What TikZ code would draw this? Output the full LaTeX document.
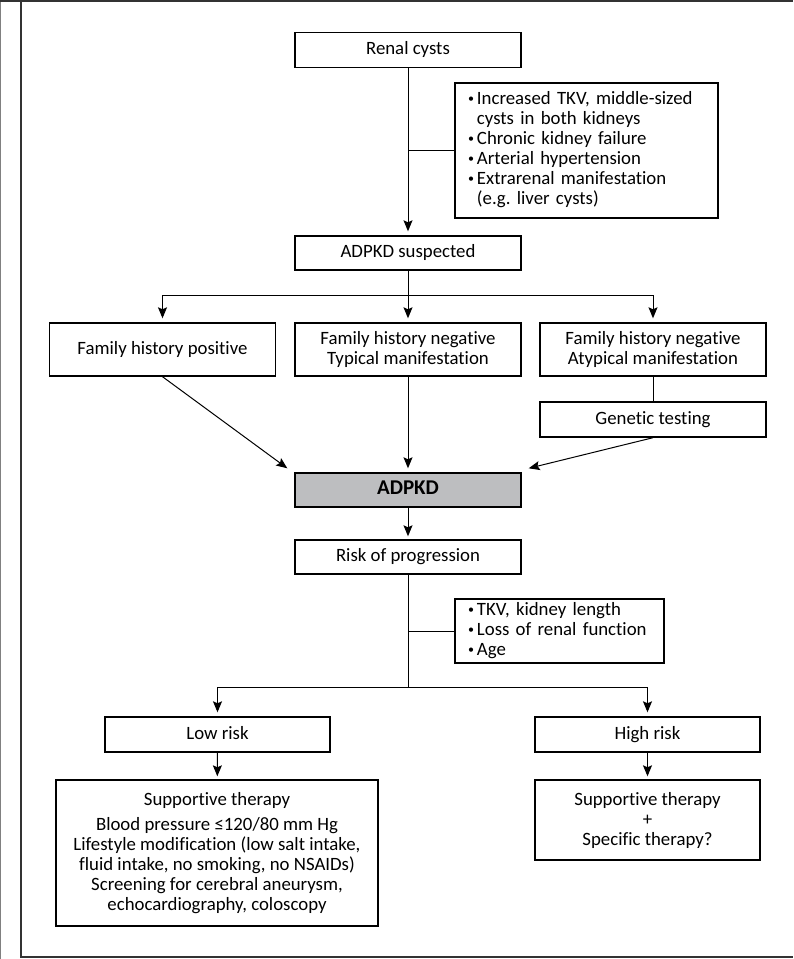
\documentclass[tikz,border=0pt]{standalone}
\usepackage{fontspec}
\setmainfont[Ligatures=NoCommon]{Carlito}
\usetikzlibrary{arrows.meta}
\definecolor{boxgray}{RGB}{189,190,192}
\newcommand{\bul}{\raisebox{0.2ex}{\fontsize{12}{12}\selectfont\textbullet}}
\tikzset{
  box/.style={draw, line width=1.4pt, minimum width=226pt, minimum height=35pt, align=center, inner sep=2pt},
  oneline/.style={text height=13pt, text depth=4pt},
  link/.style={line width=1pt},
}
\begin{document}
\begin{tikzpicture}[x=1pt, y=-1pt, >={Stealth[length=11pt,width=9pt,inset=2pt]}, font=\fontsize{18.8}{20}\selectfont\frenchspacing]
    \useasboundingbox (0,0) rectangle (793,959);
    \draw[gray, line width=1pt] (0.5,0) -- (0.5,959);
    \draw[black!80, line width=1.5pt] (0,1) -- (793,1) (21,1) -- (21,957) -- (793,957);

    \node[box, oneline] (renal) at (408,50) {Renal cysts};
    \node[box, minimum width=263pt, minimum height=135pt, text width=237pt, inner xsep=13pt, align=left] (signs) at (586.5,150.5)
        {\begin{tabular}{@{}l@{\hspace{3pt}}l@{}}
         \bul & Increased TKV, middle-sized\\
              & cysts in both kidneys\\
         \bul & Chronic kidney failure\\
         \bul & Arterial hypertension\\
         \bul & Extrarenal manifestation\\
              & (e.g. liver cysts)
         \end{tabular}};
    \node[box, oneline, minimum height=34pt] (susp) at (408,253) {ADPKD suspected};
    \node[box, oneline, minimum height=53pt] (fhpos) at (162.5,349.5) {Family history positive};
    \node[box, minimum height=53pt] (fhtyp) at (408,349.5) {Family history negative\\Typical manifestation};
    \node[box, minimum height=53pt] (fhatyp) at (653,349.5) {Family history negative\\Atypical manifestation};
    \node[box, oneline] (gen) at (653,419.5) {Genetic testing};
    \node[box, oneline, minimum height=34pt, fill=boxgray, font=\fontsize{21}{22}\selectfont\bfseries] (adpkd) at (408,490) {ADPKD};
    \node[box, oneline, minimum height=34pt] (risk) at (408,557) {Risk of progression};
    \node[box, minimum width=209pt, minimum height=64pt, text width=183pt, inner xsep=13pt, align=left] (factors) at (559.5,631)
        {\begin{tabular}{@{}l@{\hspace{3pt}}l@{}}
         \bul & TKV, kidney length\\
         \bul & Loss of renal function\\
         \bul & Age
         \end{tabular}};
    \node[box, oneline, minimum width=225pt] (low) at (217.5,734.5) {Low risk};
    \node[box, oneline, minimum width=225pt] (high) at (647.5,734.5) {High risk};
    \node[box, minimum width=322pt, minimum height=146pt] (supplow) at (217,853)
        {Supportive therapy\\[5pt]Blood pressure ≤120/80 mm Hg\\Lifestyle modification (low salt intake,\\fluid intake, no smoking, no NSAIDs)\\Screening for cerebral aneurysm,\\echocardiography, coloscopy};
    \node[box, minimum width=225pt, minimum height=80pt] (supphigh) at (647.5,820)
        {Supportive therapy\\+\\Specific therapy?};

    \draw[link, ->, shorten >=4pt] (renal) -- (susp);
    \draw[link] (renal.south |- signs.west) -- (signs.west);
    \draw[link] (susp.south) -- (408,295) coordinate (split);
    \draw[link, ->, shorten >=4pt] (split) -- (fhtyp);
    \draw[link, ->, shorten >=4pt] (split) -| (fhpos);
    \draw[link, ->, shorten >=4pt] (split) -| (fhatyp);
    \draw[link] (fhatyp) -- (gen);
    \draw[link, ->, shorten >=4pt] (fhtyp) -- (adpkd);
    \draw[link, ->] (fhpos.south) -- ([xshift=-7pt,yshift=4pt]adpkd.north west);
    \draw[link, ->] (gen.south) -- ([xshift=7pt,yshift=4pt]adpkd.north east);
    \draw[link, ->, shorten >=3pt] (adpkd) -- (risk);
    \draw[link] (risk.south) -- (408,687) coordinate (fork);
    \draw[link] (risk.south |- factors.west) -- (factors.west);
    \draw[link, ->, shorten >=4pt] (fork) -| (low);
    \draw[link, ->, shorten >=4pt] (fork) -| (high);
    \draw[link, ->, shorten >=3pt] (low) -- (supplow);
    \draw[link, ->, shorten >=3pt] (high) -- (supphigh);
\end{tikzpicture}
\end{document}
